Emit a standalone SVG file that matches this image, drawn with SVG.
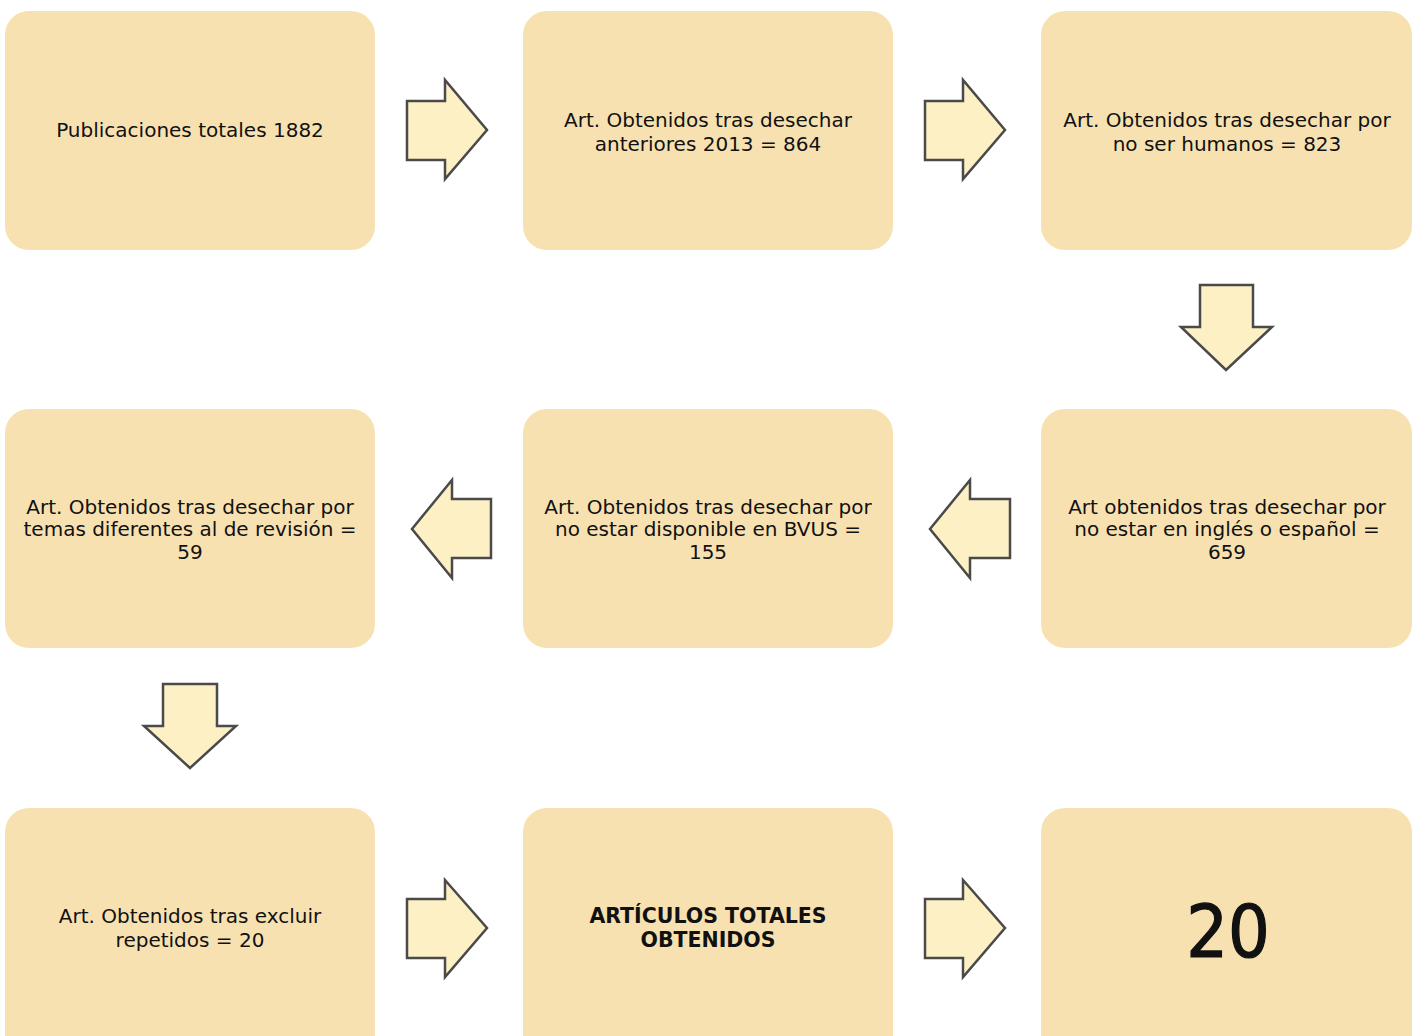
<svg xmlns="http://www.w3.org/2000/svg" width="1417" height="1036" viewBox="0 0 1417 1036">
<style>
.box{fill:#F8E1B1;}
.arr{fill:#FDF0C5;stroke:#4a4a4a;stroke-width:2.5;stroke-linejoin:miter;}
text{font-family:"DejaVu Sans",Verdana,sans-serif;font-size:20px;fill:#111;text-anchor:middle;}
.b{font-weight:bold;font-size:20.5px;}
.big{font-family:"DejaVu Sans Condensed","DejaVu Sans",sans-serif;font-size:73px;stroke:#111;stroke-width:1.2;}
</style>
<rect width="1417" height="1036" fill="#ffffff"/>
<g id="n1"><rect class="box" x="5" y="11" width="370" height="239" rx="24"/><text x="190" y="137">Publicaciones totales 1882</text></g>
<g id="n2"><rect class="box" x="523" y="11" width="370" height="239" rx="24"/><text x="708" y="127">Art. Obtenidos tras desechar</text><text x="708" y="151">anteriores 2013 = 864</text></g>
<g id="n3"><rect class="box" x="1041" y="11" width="371" height="239" rx="24"/><text x="1227" y="127">Art. Obtenidos tras desechar por</text><text x="1227" y="151">no ser humanos = 823</text></g>
<g id="n4"><rect class="box" x="1041" y="409" width="371" height="239" rx="24"/><text x="1227" y="514">Art obtenidos tras desechar por</text><text x="1227" y="536">no estar en inglés o español =</text><text x="1227" y="559">659</text></g>
<g id="n5"><rect class="box" x="523" y="409" width="370" height="239" rx="24"/><text x="708" y="514">Art. Obtenidos tras desechar por</text><text x="708" y="536">no estar disponible en BVUS =</text><text x="708" y="559">155</text></g>
<g id="n6"><rect class="box" x="5" y="409" width="370" height="239" rx="24"/><text x="190" y="514">Art. Obtenidos tras desechar por</text><text x="190" y="536">temas diferentes al de revisión =</text><text x="190" y="559">59</text></g>
<g id="n7"><rect class="box" x="5" y="808" width="370" height="260" rx="24"/><text x="190" y="923">Art. Obtenidos tras excluir</text><text x="190" y="947">repetidos = 20</text></g>
<g id="n8"><rect class="box" x="523" y="808" width="370" height="260" rx="24"/><text class="b" x="708" y="923">ARTÍCULOS TOTALES</text><text class="b" x="708" y="947">OBTENIDOS</text></g>
<g id="n9"><rect class="box" x="1041" y="808" width="371" height="260" rx="24"/><text class="big" x="1228" y="957">20</text></g>
<g id="connectors">
<polygon class="arr" points="407,101 445,101 445,80 487,130 445,179 445,160 407,160"/>
<polygon class="arr" points="925,101 963,101 963,80 1005,130 963,179 963,160 925,160"/>
<polygon class="arr" points="1200,285 1253,285 1253,327 1272,327 1226,370 1181,327 1200,327"/>
<polygon class="arr" points="1010,499 970,499 970,480 930,529 970,578 970,558 1010,558"/>
<polygon class="arr" points="491,499 452,499 452,480 412,529 452,578 452,558 491,558"/>
<polygon class="arr" points="163,684 217,684 217,726 236,726 190,768 144,726 163,726"/>
<polygon class="arr" points="407,899 445,899 445,880 487,928 445,977 445,958 407,958"/>
<polygon class="arr" points="925,899 963,899 963,880 1005,928 963,977 963,958 925,958"/>
</g>
</svg>
